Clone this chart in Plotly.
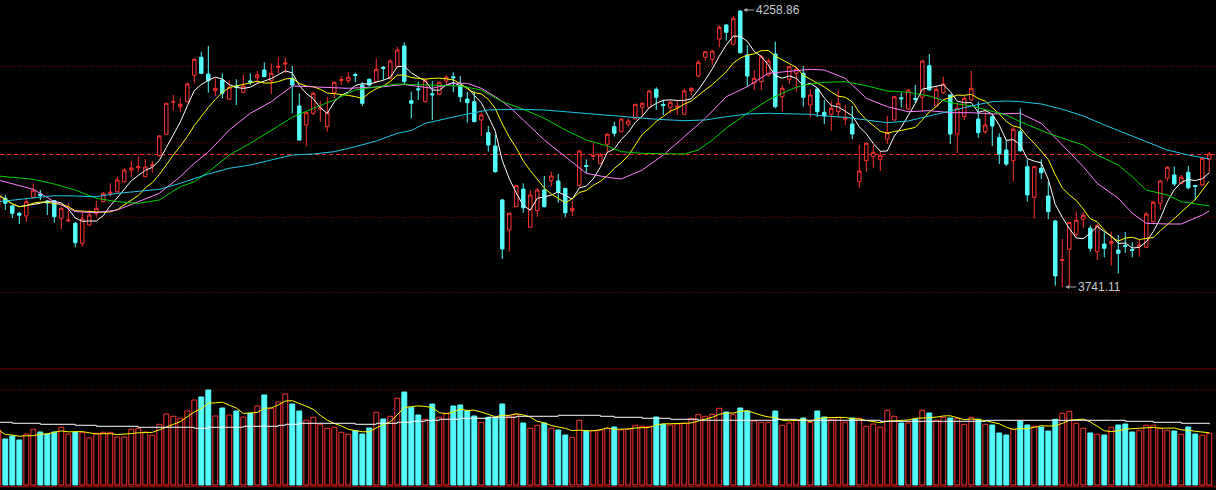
import plotly.graph_objects as go
import pandas as pd

# ---------------- data ----------------
opens = [3894.4, 3906.9, 3892.6, 3878.9, 3873.9, 3908.8, 3915.0, 3901.8, 3902.5, 3869.5,
         3864.5, 3860.2, 3822.8, 3857.0, 3878.9, 3900.6, 3916.2, 3919.2, 3937.9, 3959.8,
         3964.1, 3947.3, 3967.3, 3986.6, 4026.6, 4086.9, 4078.1, 4087.5, 4136.8, 4170.5,
         4139.2, 4108.0, 4128.0, 4092.0, 4116.8, 4105.1, 4126.2, 4132.3, 4146.7, 4126.7,
         4151.8, 4157.9, 4131.2, 4079.4, 4043.9, 4065.8, 4073.8, 4040.8, 4104.3, 4127.1,
         4126.7, 4138.3, 4118.7, 4129.3, 4124.9, 4151.8, 4131.2, 4152.9, 4191.6, 4089.4,
         4111.6, 4087.5, 4102.2, 4101.3, 4126.2, 4134.0, 4117.4, 4092.5, 4087.5, 4053.3,
         4029.6, 4004.7, 3903.8, 3847.7, 3891.2, 3924.3, 3852.7, 3883.8, 3922.4, 3939.8,
         3939.3, 3925.6, 3883.8, 3930.5, 3968.2, 3985.1, 3972.3, 4007.9, 4040.8, 4031.4,
         4045.2, 4055.1, 4077.0, 4077.0, 4110.6, 4082.3, 4077.0, 4077.2, 4063.9, 4108.0,
         4135.5, 4170.5, 4166.7, 4204.7, 4230.8, 4194.8, 4257.0, 4174.8, 4121.9, 4124.9,
         4137.4, 4176.6, 4096.8, 4129.3, 4140.5, 4140.5, 4081.3, 4111.2, 4067.6, 4063.9,
         4068.8, 4054.6, 4045.8, 3937.9, 3977.2, 3984.7, 3979.8, 4017.8, 4053.3, 4094.8,
         4073.8, 4093.5, 4095.7, 4154.8, 4079.4, 4104.3, 4100.0, 4027.1, 4059.4, 4090.7,
         4055.1, 4031.4, 4059.4, 4020.2, 3997.2, 3977.2, 4031.4, 3966.0, 3908.8, 3963.0,
         3911.2, 3864.5, 3790.7, 3811.6, 3839.6, 3867.7, 3850.9, 3807.1, 3821.5, 3822.8,
         3810.3, 3818.7, 3811.2, 3816.5, 3815.4, 3863.2, 3897.6, 3944.3, 3950.5, 3934.9,
         3955.5, 3930.8, 3931.8, 3979.8]
highs = [3916.8, 3913.1, 3894.4, 3881.4, 3907.5, 3934.9, 3922.4, 3903.8, 3903.8, 3890.7,
         3897.6, 3862.6, 3881.9, 3885.1, 3902.5, 3918.1, 3934.9, 3947.3, 3963.0, 3976.6,
         3984.7, 3980.4, 3976.6, 4024.7, 4085.6, 4100.0, 4093.8, 4123.7, 4168.6, 4180.9,
         4191.6, 4131.2, 4140.5, 4128.0, 4129.3, 4137.4, 4140.5, 4144.9, 4161.1, 4159.2,
         4170.5, 4170.5, 4154.2, 4103.1, 4068.8, 4106.1, 4088.8, 4096.8, 4124.9, 4135.5,
         4142.4, 4141.7, 4123.7, 4131.2, 4168.6, 4154.2, 4166.7, 4190.3, 4198.5, 4106.1,
         4124.9, 4131.2, 4126.2, 4124.9, 4137.4, 4142.4, 4135.5, 4106.1, 4108.0, 4067.6,
         4042.1, 4025.3, 3905.6, 3880.0, 3931.8, 3934.9, 3922.4, 3925.6, 3948.6, 3956.6,
         3952.3, 3926.2, 3901.9, 3997.2, 3979.8, 4011.6, 3991.6, 4028.4, 4050.1, 4056.4,
         4056.4, 4083.2, 4086.4, 4109.4, 4114.4, 4090.7, 4090.7, 4090.7, 4112.5, 4114.4,
         4165.4, 4182.2, 4184.1, 4230.8, 4232.7, 4247.7, 4258.86, 4193.5, 4146.7, 4174.8,
         4168.6, 4199.6, 4118.7, 4154.8, 4152.9, 4154.2, 4110.6, 4113.1, 4090.7, 4089.4,
         4107.5, 4081.3, 4079.4, 4006.5, 4010.9, 4006.5, 3995.9, 4060.8, 4098.1, 4104.3,
         4110.6, 4118.7, 4165.4, 4176.6, 4115.5, 4134.2, 4101.3, 4084.5, 4100.0, 4144.9,
         4087.5, 4072.0, 4064.5, 4028.4, 4015.9, 4040.8, 4075.1, 3979.8, 3967.3, 3979.8,
         3937.9, 3866.4, 3830.9, 3863.2, 3881.9, 3881.9, 3855.7, 3858.3, 3842.6, 3844.5,
         3838.3, 3843.9, 3824.7, 3829.0, 3881.9, 3902.5, 3941.1, 3967.3, 3966.0, 3950.5,
         3967.3, 3931.8, 3983.6, 3994.0]
lows = [3890.7, 3885.1, 3870.1, 3858.9, 3863.2, 3907.0, 3903.8, 3875.7, 3861.3, 3849.6,
        3862.6, 3815.4, 3816.5, 3855.2, 3872.6, 3899.5, 3909.9, 3916.2, 3936.1, 3947.3,
        3956.6, 3946.7, 3954.8, 3984.7, 4025.3, 4070.7, 4068.8, 4085.6, 4121.9, 4139.2,
        4104.3, 4098.1, 4093.8, 4090.7, 4081.3, 4103.1, 4118.7, 4121.9, 4133.1, 4101.9,
        4140.5, 4140.5, 4065.8, 4014.6, 4003.4, 4062.6, 4050.1, 4031.4, 4093.8, 4118.7,
        4121.9, 4123.7, 4079.4, 4115.5, 4123.7, 4128.0, 4129.3, 4151.0, 4118.7, 4056.4,
        4090.7, 4086.4, 4053.3, 4100.0, 4118.7, 4105.1, 4086.4, 4048.2, 4049.0, 4023.4,
        3994.0, 3954.8, 3793.5, 3807.1, 3890.1, 3880.0, 3852.0, 3872.6, 3890.1, 3929.9,
        3898.7, 3871.4, 3873.9, 3928.6, 3953.6, 3978.5, 3971.0, 3991.6, 4022.1, 4030.3,
        4040.8, 4054.6, 4059.4, 4075.1, 4072.0, 4062.6, 4065.8, 4062.6, 4062.6, 4100.0,
        4133.1, 4164.1, 4156.1, 4189.1, 4201.5, 4193.5, 4177.9, 4115.5, 4109.4, 4109.4,
        4134.2, 4075.1, 4068.8, 4120.6, 4106.1, 4078.1, 4058.3, 4058.3, 4045.8, 4033.3,
        4058.3, 4043.9, 4017.2, 3926.7, 3956.6, 3964.1, 3957.9, 4008.4, 4052.0, 4077.0,
        4072.6, 4084.5, 4068.8, 4108.0, 4078.1, 4101.9, 4008.4, 3991.0, 4053.3, 4089.4,
        4020.2, 4027.1, 4004.7, 3971.0, 3967.3, 3937.9, 3994.0, 3900.6, 3869.5, 3943.0,
        3867.7, 3743.6, 3741.11, 3743.0, 3835.2, 3850.9, 3807.1, 3791.6, 3796.6, 3780.9,
        3766.7, 3804.8, 3796.6, 3797.8, 3814.0, 3862.0, 3885.1, 3937.9, 3929.9, 3933.6,
        3923.7, 3903.8, 3929.9, 3954.8]
closes = [3913.1, 3897.6, 3878.9, 3875.2, 3900.6, 3921.9, 3911.8, 3898.1, 3872.6, 3888.2,
          3866.4, 3823.9, 3868.2, 3875.7, 3888.2, 3916.2, 3918.1, 3941.1, 3959.8, 3963.6,
          3966.0, 3965.4, 3969.2, 4023.4, 4084.5, 4087.5, 4082.6, 4120.6, 4166.7, 4140.5,
          4126.7, 4112.5, 4103.1, 4114.4, 4114.4, 4116.8, 4124.3, 4137.4, 4134.2, 4140.5,
          4153.6, 4159.8, 4118.7, 4015.9, 4066.9, 4103.1, 4075.7, 4066.9, 4123.7, 4128.6,
          4133.1, 4136.4, 4084.5, 4118.7, 4148.0, 4149.9, 4163.5, 4184.1, 4124.9, 4084.5,
          4109.7, 4126.7, 4100.4, 4123.7, 4133.1, 4132.1, 4096.8, 4085.6, 4050.1, 4062.6,
          4006.5, 3956.6, 3812.2, 3878.9, 3930.5, 3889.4, 3913.1, 3922.4, 3891.2, 3948.6,
          3919.2, 3880.0, 3888.2, 3995.3, 3966.4, 3986.9, 3987.8, 4026.6, 4028.4, 4055.1,
          4051.4, 4082.6, 4084.5, 4107.5, 4095.7, 4080.4, 4086.4, 4079.1, 4107.5, 4112.5,
          4161.1, 4180.9, 4182.2, 4226.5, 4217.2, 4243.3, 4179.0, 4135.5, 4131.2, 4171.6,
          4163.5, 4078.1, 4112.5, 4152.9, 4148.6, 4095.7, 4100.0, 4068.8, 4060.8, 4075.1,
          4084.5, 4058.3, 4027.1, 3957.9, 4009.7, 3992.9, 3986.6, 4029.6, 4096.8, 4092.9,
          4109.4, 4091.6, 4163.5, 4109.4, 4110.6, 4120.6, 4027.1, 4075.1, 4093.8, 4112.5,
          4029.6, 4043.9, 4042.1, 3989.7, 3971.0, 4035.9, 3995.9, 3913.1, 3966.0, 3954.8,
          3881.9, 3761.7, 3792.6, 3862.0, 3865.8, 3875.2, 3813.5, 3855.7, 3813.5, 3825.8,
          3804.2, 3816.8, 3809.4, 3819.7, 3877.6, 3899.5, 3939.3, 3964.9, 3933.6, 3946.2,
          3926.7, 3929.0, 3981.7, 3989.7]
volumes = [2200, 1840, 1960, 1800, 2040, 2228, 2120, 2040, 2120, 2308,
           2040, 2120, 2092, 1880, 2068, 2108, 2108, 1920, 1920, 2228,
           2268, 2120, 1988, 2428, 2840, 2748, 2668, 2960, 3400, 3520,
           3800, 2760, 3080, 2800, 2960, 2720, 2868, 3160, 3600, 3068,
           3320, 3640, 3240, 2960, 2588, 2708, 2428, 2268, 2308, 2108,
           2028, 2172, 2040, 2280, 2908, 2640, 2748, 3468, 3720, 3092,
           2800, 2628, 3240, 2708, 2868, 3160, 3200, 2972, 2760, 2508,
           2708, 2708, 3240, 2760, 2828, 2480, 2268, 2388, 2480, 2268,
           2200, 2000, 1908, 2588, 2172, 2172, 2200, 2268, 2320, 2200,
           2228, 2388, 2348, 2348, 2720, 2428, 2400, 2440, 2468, 2668,
           2828, 2748, 2828, 3068, 2920, 2828, 3080, 2960, 2560, 2508,
           2508, 2960, 2388, 2480, 2600, 2680, 2508, 2960, 2720, 2628,
           2708, 2508, 2680, 2668, 2348, 2440, 2308, 2988, 2748, 2480,
           2480, 2640, 2988, 2880, 2588, 2708, 2680, 2668, 2428, 2708,
           2628, 2428, 2400, 2080, 2000, 2228, 2560, 2400, 2348, 2320,
           2160, 2628, 2868, 2948, 2468, 2268, 2080, 2028, 2000, 2308,
           2400, 2440, 2120, 2188, 2388, 2388, 2268, 2188, 2160, 2028,
           2320, 2040, 1988, 2068]

# longer price moving averages, read at sample candles
ma20_idx = [0, 5, 8, 11, 14, 17, 20, 23, 26, 28, 30, 33, 36, 39, 42, 45, 50, 55, 58, 62,
            65, 67, 69, 71, 73, 75, 78, 81, 84, 87, 89, 92, 95, 98, 101, 104, 107, 110, 113, 116,
            118, 121, 124, 127, 130, 133, 136, 139, 142, 144, 146, 149, 152, 155, 157, 160, 162, 164, 167, 169,
            172, 173]
ma20_val = [3941.1, 3923.7, 3900.6, 3881.9, 3880.0, 3885.1, 3900.6, 3916.2, 3947.3, 3972.3,
            3993.5, 4034.6, 4065.8, 4087.5, 4116.8, 4115.5, 4112.5, 4115.5, 4119.6, 4112.5,
            4121.9, 4121.9, 4112.5, 4096.8, 4078.1, 4053.3, 4015.9, 3984.7, 3953.6, 3946.2,
            3943.0, 3959.8, 3987.8, 4022.1, 4056.4, 4096.8, 4115.5, 4140.5, 4144.9, 4148.0,
            4146.7, 4131.2, 4093.8, 4078.1, 4068.8, 4070.7, 4066.9, 4066.9, 4064.5, 4064.5,
            4065.8, 4047.1, 4006.5, 3966.0, 3934.9, 3906.9, 3878.9, 3860.2, 3858.9, 3858.9,
            3875.7, 3883.2]
ma30_idx = [0, 5, 8, 11, 14, 17, 20, 23, 26, 28, 30, 33, 36, 39, 42, 45, 48, 51, 54, 57,
            59, 62, 66, 69, 72, 75, 78, 81, 84, 87, 89, 92, 95, 98, 100, 102, 104, 107, 110, 113,
            115, 118, 121, 124, 127, 130, 133, 136, 139, 142, 144, 146, 150, 153, 155, 157, 160, 162, 164, 167,
            169, 172, 173]
ma30_val = [3948.6, 3942.4, 3933.6, 3922.4, 3906.9, 3900.6, 3897.6, 3903.8, 3928.6, 3937.9,
            3956.1, 3987.8, 4009.7, 4034.6, 4058.3, 4075.1, 4090.7, 4109.4, 4115.5, 4120.6,
            4119.6, 4118.7, 4116.8, 4109.4, 4087.5, 4073.3, 4056.4, 4034.6, 4015.9, 4004.7,
            3994.0, 3991.0, 3989.7, 3989.7, 3997.2, 4015.9, 4037.8, 4065.8, 4090.7, 4109.4,
            4118.7, 4123.7, 4124.9, 4117.4, 4107.5, 4105.1, 4098.1, 4085.6, 4079.4, 4068.8,
            4062.6, 4050.1, 4028.4, 4015.0, 4006.5, 3987.8, 3969.2, 3947.3, 3922.4, 3913.1,
            3900.6, 3894.4, 3893.1]
ma60_idx = [0, 5, 8, 11, 14, 17, 20, 23, 26, 28, 30, 33, 36, 39, 42, 45, 48, 51, 54, 57,
            59, 61, 64, 67, 70, 74, 78, 81, 84, 87, 90, 94, 98, 101, 104, 107, 110, 113, 116, 118,
            121, 124, 127, 130, 133, 136, 139, 142, 144, 146, 149, 152, 155, 158, 161, 164, 167, 170, 173]
ma60_val = [3900.6, 3908.1, 3911.8, 3911.2, 3909.9, 3916.2, 3920.6, 3923.7, 3934.9, 3944.3,
            3952.3, 3963.0, 3969.2, 3978.5, 3987.8, 3989.7, 3994.0, 4003.4, 4014.0, 4028.4,
            4033.7, 4047.1, 4056.4, 4064.5, 4072.0, 4073.3, 4072.0, 4068.8, 4065.8, 4061.7,
            4058.3, 4054.6, 4052.0, 4053.3, 4059.4, 4064.5, 4065.8, 4064.5, 4063.9, 4060.8,
            4058.3, 4053.3, 4048.2, 4051.4, 4060.8, 4070.7, 4079.4, 4087.5, 4088.8, 4087.5,
            4083.2, 4073.3, 4060.8, 4044.0, 4028.4, 4012.7, 3997.2, 3987.8, 3980.4]

# long volume average (white line in the volume pane), read at sample candles
vma_long_idx = [0, 2, 6, 11, 14, 20, 28, 30, 35, 40, 41, 43, 49, 51, 54, 57, 59, 61, 63, 66,
                70, 74, 80, 84, 86, 88, 92, 96, 100, 108, 111, 114, 124, 126, 135, 141, 159, 161, 165, 169, 173]
vma_long_val = [2508, 2468, 2428, 2388, 2348, 2308, 2268, 2308, 2348, 2388, 2428, 2468, 2468, 2428,
                2468, 2508, 2548, 2588, 2628, 2668, 2708, 2748, 2788, 2788, 2748, 2708, 2668, 2628,
                2588, 2588, 2628, 2588, 2588, 2548, 2548, 2588, 2588, 2548, 2508, 2468, 2428]

high_label = "4258.86"
low_label = "3741.11"
prev_ref_level = 3988.8          # red dashed reference line
price_grid = [4153.3, 4011.6, 3871.4, 3730.9]
vol_grid_main = 3800
vol_grid_faint = 1920

# ---------------- derived ----------------
idx = list(range(len(closes)))
cs = pd.Series(closes)
ma5 = cs.rolling(5, min_periods=1).mean().tolist()
ma10 = cs.rolling(10, min_periods=1).mean().tolist()
vma5 = pd.Series(volumes).rolling(5, min_periods=1).mean().tolist()

UP = "#FF3232"
DN = "#54FCFC"
up_flags = [c >= o for o, c in zip(opens, closes)]
bar_fill = ["#000000" if u else DN for u in up_flags]
bar_line = [UP if u else DN for u in up_flags]

fig = go.Figure()

fig.add_trace(go.Candlestick(
    x=idx, open=opens, high=highs, low=lows, close=closes,
    increasing=dict(line=dict(color=UP, width=1), fillcolor="#000000"),
    decreasing=dict(line=dict(color=DN, width=1), fillcolor=DN),
    xaxis="x", yaxis="y", hoverinfo="skip"))

for xs, ys, col in [(idx, ma5, "#FFFFFF"), (idx, ma10, "#FFFF00"),
                    (ma20_idx, ma20_val, "#FF80FF"), (ma30_idx, ma30_val, "#00D000"),
                    (ma60_idx, ma60_val, "#20C8E8")]:
    fig.add_trace(go.Scatter(x=xs, y=ys, mode="lines", line=dict(color=col, width=1),
                             xaxis="x", yaxis="y", hoverinfo="skip"))

fig.add_trace(go.Bar(x=idx, y=volumes, width=0.7,
                     marker=dict(color=bar_fill, line=dict(color=bar_line, width=1)),
                     xaxis="x2", yaxis="y2", hoverinfo="skip"))
fig.add_trace(go.Scatter(x=idx, y=vma5, mode="lines", line=dict(color="#FFFF00", width=1),
                         xaxis="x2", yaxis="y2", hoverinfo="skip"))
fig.add_trace(go.Scatter(x=vma_long_idx, y=vma_long_val, mode="lines",
                         line=dict(color="#FFFFFF", width=1, shape="hv"),
                         xaxis="x2", yaxis="y2", hoverinfo="skip"))

xr = [0.243, 173.96]
fig.update_layout(
    width=1216, height=490, margin=dict(l=0, r=0, t=0, b=0),
    paper_bgcolor="#000000", plot_bgcolor="#000000", showlegend=False,
    boxgap=0.3,
    xaxis=dict(domain=[0, 1], range=xr, visible=False, anchor="y",
               rangeslider=dict(visible=False)),
    xaxis2=dict(domain=[0, 1], range=xr, visible=False, anchor="y2", matches="x"),
    yaxis=dict(domain=[0.2531, 1], range=[3593.5, 4277.55], tickvals=price_grid,
               showticklabels=False, ticks="", zeroline=False, showline=False,
               showgrid=True, gridcolor="#8A0000", griddash="1px,2px", gridwidth=1),
    yaxis2=dict(domain=[0, 0.2531], range=[-200, 4760], showticklabels=False,
                ticks="", zeroline=False, showline=False, showgrid=False),
    shapes=[
        dict(type="line", xref="paper", x0=0, x1=1, yref="y", y0=prev_ref_level, y1=prev_ref_level,
             line=dict(color="#FF2A2A", width=1, dash="4px,3px"), layer="below"),
        dict(type="line", xref="paper", x0=0, x1=1, yref="y2", y0=4640, y1=4640,
             line=dict(color="#7A0000", width=1), layer="below"),
        dict(type="line", xref="paper", x0=0, x1=1, yref="y2", y0=vol_grid_main, y1=vol_grid_main,
             line=dict(color="#A00000", width=1, dash="1px,2px"), layer="below"),
        dict(type="line", xref="paper", x0=0, x1=1, yref="y2", y0=vol_grid_faint, y1=vol_grid_faint,
             line=dict(color="#3A0000", width=1, dash="1px,2px"), layer="below"),
        dict(type="line", xref="paper", x0=0, x1=1, yref="y2", y0=-60, y1=-60,
             line=dict(color="#8A0000", width=1.5), layer="below"),
    ],
    annotations=[
        dict(x=106, y=4258.86, xref="x", yref="y", text=high_label, showarrow=True,
             ax=14, ay=0, xanchor="left", arrowhead=2, arrowsize=0.8, arrowwidth=1,
             arrowcolor="#A8A8A8", standoff=3,
             font=dict(family="Liberation Sans", size=12, color="#C4C8D0")),
        dict(x=152, y=3741.11, xref="x", yref="y", text=low_label, showarrow=True,
             ax=14, ay=0, xanchor="left", arrowhead=2, arrowsize=0.8, arrowwidth=1,
             arrowcolor="#A8A8A8", standoff=3,
             font=dict(family="Liberation Sans", size=12, color="#C4C8D0")),
    ],
)

fig.write_html("out.html", config={"displayModeBar": False})

# remove the browser's default page margin so the chart sits at the window origin
with open("out.html", "r", encoding="utf-8") as fh:
    page = fh.read()
page = page.replace("<head>", "<head><style>html,body{margin:0;padding:0;background:#000;overflow:hidden}</style>", 1)
with open("out.html", "w", encoding="utf-8") as fh:
    fh.write(page)
